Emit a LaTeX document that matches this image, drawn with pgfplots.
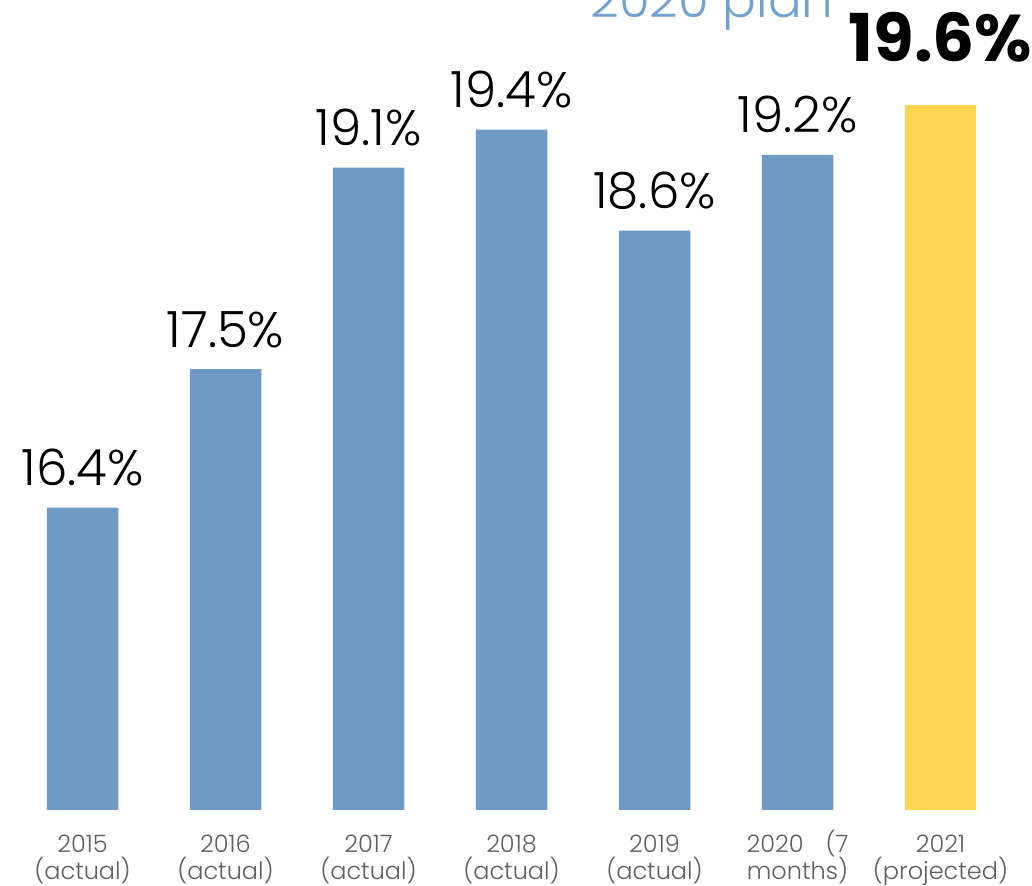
\documentclass[border=0pt]{standalone}
\usepackage{pgfplots}
\pgfplotsset{compat=1.18}
\usepackage{fontspec}
\setmainfont{Poppins}
\newfontfamily\lightfont{Poppins Light}
\definecolor{barblue}{HTML}{6F9AC6}
\definecolor{baryellow}{HTML}{FFD750}
\definecolor{labgray}{HTML}{5F5F5F}
\definecolor{planblue}{HTML}{72A0D0}
\begin{document}
\begin{tikzpicture}
\begin{axis}[
  scale only axis,
  width=516pt, height=405pt,
  xmin=-0.577, xmax=6.640,
  ymin=14, ymax=20.43,
  axis line style={draw=none},
  major tick style={draw=none},
  ytick=\empty,
  xtick={0,1,2,3,4,5,6},
  xticklabels={{\vphantom{(}2015\\(actual)},{\vphantom{(}2016\\(actual)},{\vphantom{(}2017\\(actual)},{\vphantom{(}2018\\(actual)},{\vphantom{(}2019\\(actual)},{2020\hspace{11pt}(7\\months)},{\vphantom{(}2021\\(projected)}},
  xticklabel style={anchor=north, inner sep=0pt, yshift=-10pt, align=center, text=labgray, font=\lightfont\fontsize{12}{13.5}\selectfont},
  clip=false,
  point meta=explicit symbolic,
  nodes near coords,
]
\coordinate (O) at (rel axis cs:0,0);
\addplot[ybar, bar width=0.5, fill=barblue, draw=none,
  every node near coord/.style={anchor=base, inner sep=0pt, yshift=11pt, font=\lightfont\fontsize{25}{28}\selectfont, text=black}]
  coordinates {(0,16.4) [16.4\%] (1,17.5) [17.5\%] (2,19.1) [19.1\%] (3,19.4) [19.4\%] (4,18.6) [18.6\%] (5,19.2) [19.2\%]};
\addplot[ybar, bar width=0.5, fill=baryellow, draw=none,
  every node near coord/.style={anchor=base, inner sep=0pt, yshift=21.5pt, font=\bfseries\fontsize{33}{36}\selectfont, text=black}]
  coordinates {(6,19.6) [19.6\%]};
\end{axis}
\node[anchor=base west, inner sep=0pt, text=planblue, font=\fontsize{25}{28}\selectfont\lightfont] at ([shift={(295pt,396pt)}]O) {2020 plan};
\pgfresetboundingbox
\path[use as bounding box] ([shift={(0pt,-38pt)}]O) rectangle ([shift={(516pt,405pt)}]O);
\end{tikzpicture}
\end{document}
